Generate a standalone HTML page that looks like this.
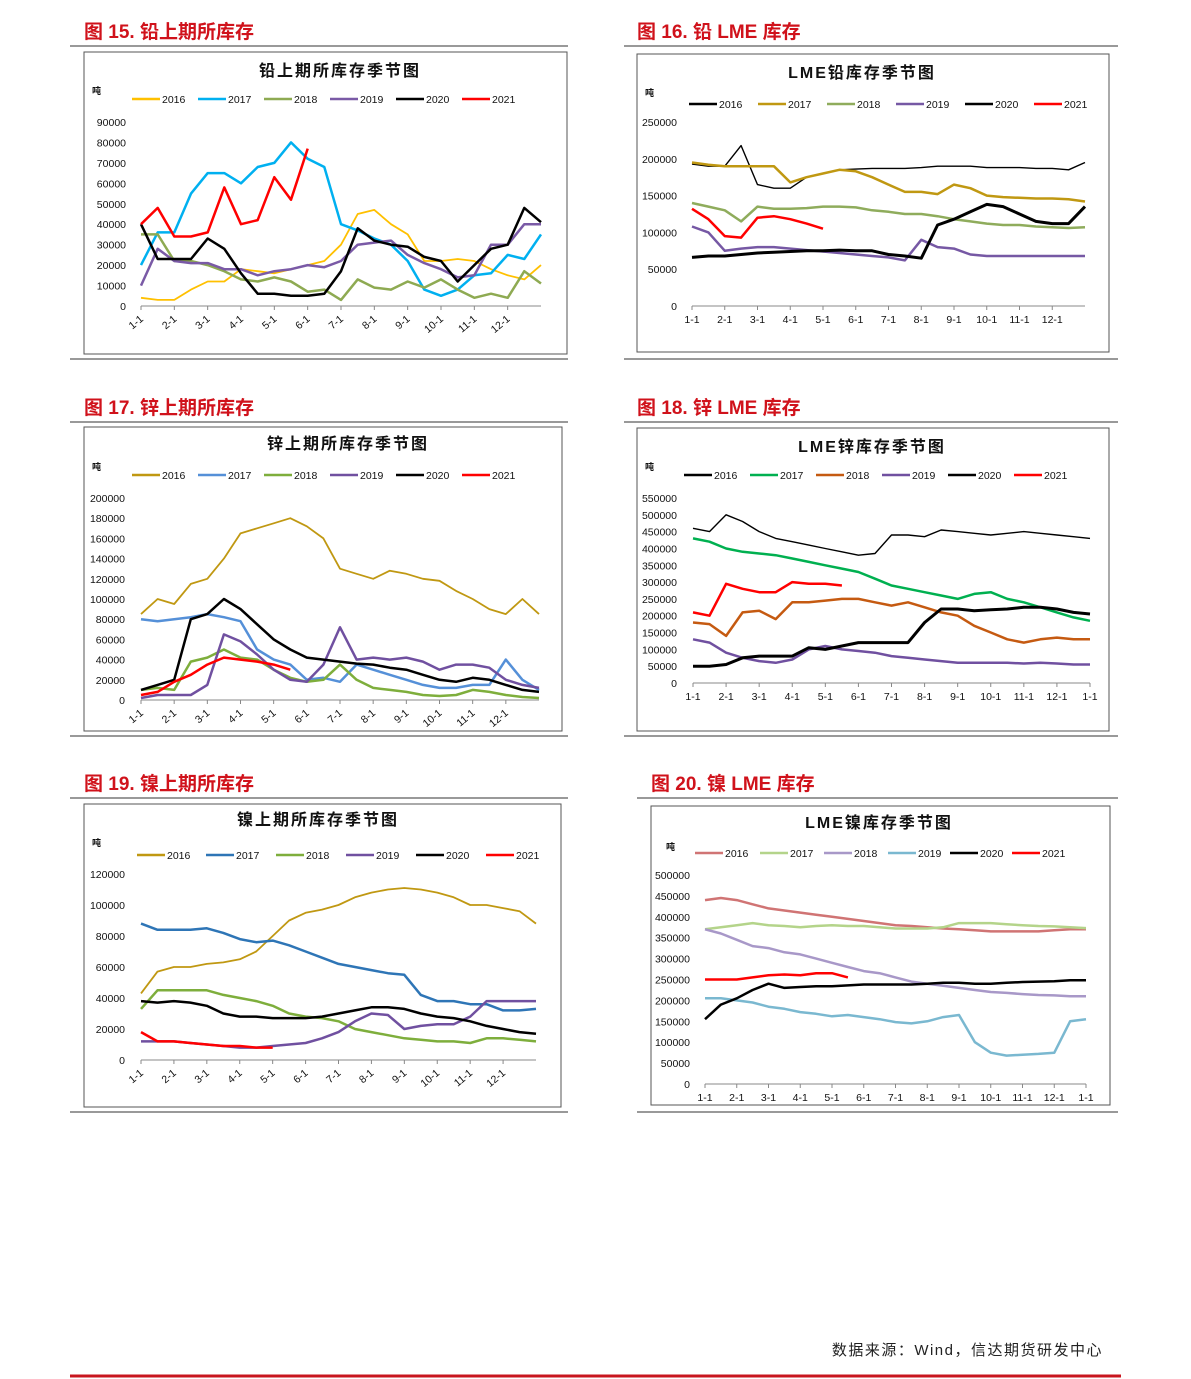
<!DOCTYPE html>
<html><head><meta charset="utf-8">
<style>
html,body{margin:0;padding:0;background:#fff;}
svg{display:block;font-family:"Liberation Sans","Noto Sans CJK SC",sans-serif;}
.ttl{font-family:"Liberation Sans","Noto Sans CJK SC",sans-serif;font-size:19px;font-weight:bold;fill:#d0121b;}
.ctl{font-family:"Liberation Sans","Noto Sans CJK SC",sans-serif;font-size:16px;font-weight:bold;fill:#111;letter-spacing:2px;}
.tk{font-size:10.5px;fill:#111;}
</style></head>
<body>
<svg id="page" width="1191" height="1379" viewBox="0 0 1191 1379" xmlns="http://www.w3.org/2000/svg"></svg>
<script>
// ===== Chart 15: Pb SHFE (tons, per half-month samples) =====
const pbShfe2016 = [4000,3000,3000,8000,12000,12000,18000,17000,16000,18000,20000,22000,30000,45000,47000,40000,35000,22000,22000,23000,22000,18000,15000,13000,20000];
const pbShfe2017 = [20000,36000,36000,55000,65000,65000,60000,68000,70000,80000,72000,68000,40000,37000,33000,30000,22000,8000,5000,8000,15000,16000,25000,23000,35000];
const pbShfe2018 = [35000,35000,22000,22000,20000,17000,13000,12000,14000,12000,7000,8000,3000,13000,9000,8000,12000,9000,13000,8000,4000,6000,4000,17000,11000];
const pbShfe2019 = [10000,28000,22000,21000,21000,18000,18000,15000,17000,18000,20000,19000,22000,30000,31000,32000,25000,21000,18000,14000,15000,30000,30000,40000,40000];
const pbShfe2020 = [40000,23000,23000,23000,33000,28000,16000,6000,6000,5000,5000,6000,17000,38000,32000,30000,29000,24000,22000,12000,20000,28000,30000,48000,41000];
const pbShfe2021 = [40000,48000,34000,34000,36000,58000,40000,42000,63000,52000,77000];
// ===== Chart 16: Pb LME =====
const pbLme2016 = [193000,190000,190000,218000,165000,160000,160000,175000,180000,185000,186000,187000,187000,187000,188000,190000,190000,190000,188000,188000,188000,187000,187000,185000,195000];
const pbLme2017 = [195000,192000,190000,190000,190000,190000,168000,175000,180000,185000,183000,175000,165000,155000,155000,152000,165000,160000,150000,148000,147000,146000,146000,145000,142000];
const pbLme2018 = [140000,135000,130000,115000,135000,132000,132000,133000,135000,135000,134000,130000,128000,125000,125000,122000,118000,115000,112000,110000,110000,108000,107000,106000,107000];
const pbLme2019 = [108000,100000,75000,78000,80000,80000,78000,76000,74000,72000,70000,68000,66000,62000,90000,80000,78000,70000,68000,68000,68000,68000,68000,68000,68000];
const pbLme2020 = [66000,68000,68000,70000,72000,73000,74000,75000,75000,76000,75000,75000,70000,68000,65000,110000,118000,128000,138000,135000,125000,115000,112000,112000,135000];
const pbLme2021 = [132000,118000,95000,93000,120000,122000,118000,112000,105000];
// ===== Chart 17: Zn SHFE =====
const znShfe2016 = [85000,100000,95000,115000,120000,140000,165000,170000,175000,180000,172000,160000,130000,125000,120000,128000,125000,120000,118000,108000,100000,90000,85000,100000,85000];
const znShfe2017 = [80000,78000,80000,82000,85000,82000,78000,50000,40000,35000,20000,22000,18000,35000,30000,25000,20000,15000,12000,12000,15000,15000,40000,20000,10000];
const znShfe2018 = [10000,12000,10000,38000,42000,50000,42000,40000,30000,22000,18000,20000,35000,20000,12000,10000,8000,5000,4000,5000,10000,8000,5000,3000,2000];
const znShfe2019 = [2000,5000,5000,5000,15000,65000,58000,45000,30000,20000,18000,35000,72000,40000,42000,40000,42000,38000,30000,35000,35000,32000,20000,15000,12000];
const znShfe2020 = [10000,15000,20000,80000,85000,100000,90000,75000,60000,50000,42000,40000,38000,36000,35000,32000,30000,25000,20000,18000,22000,20000,15000,10000,8000];
const znShfe2021 = [5000,8000,18000,25000,35000,42000,40000,38000,35000,30000];
// ===== Chart 18: Zn LME =====
const znLme2016 = [460000,450000,500000,480000,450000,430000,420000,410000,400000,390000,380000,385000,440000,440000,435000,455000,450000,445000,440000,445000,450000,445000,440000,435000,430000];
const znLme2017 = [430000,420000,400000,390000,385000,380000,370000,360000,350000,340000,330000,310000,290000,280000,270000,260000,250000,265000,270000,250000,240000,225000,210000,195000,185000];
const znLme2018 = [180000,175000,140000,210000,215000,190000,240000,240000,245000,250000,250000,240000,230000,240000,225000,210000,200000,170000,150000,130000,120000,130000,135000,130000,130000];
const znLme2019 = [130000,120000,90000,75000,65000,60000,70000,100000,110000,100000,95000,90000,80000,75000,70000,65000,60000,60000,60000,60000,58000,60000,58000,55000,55000];
const znLme2020 = [50000,50000,55000,75000,80000,80000,80000,105000,100000,110000,120000,120000,120000,120000,180000,220000,220000,215000,218000,220000,225000,225000,220000,210000,205000];
const znLme2021 = [210000,200000,295000,280000,270000,270000,300000,295000,295000,290000];
// ===== Chart 19: Ni SHFE =====
const niShfe2016 = [43000,57000,60000,60000,62000,63000,65000,70000,80000,90000,95000,97000,100000,105000,108000,110000,111000,110000,108000,105000,100000,100000,98000,96000,88000];
const niShfe2017 = [88000,84000,84000,84000,85000,82000,78000,76000,77000,74000,70000,66000,62000,60000,58000,56000,55000,42000,38000,38000,36000,36000,32000,32000,33000];
const niShfe2018 = [33000,45000,45000,45000,45000,42000,40000,38000,35000,30000,28000,27000,25000,20000,18000,16000,14000,13000,12000,12000,11000,14000,14000,13000,12000];
const niShfe2019 = [12000,12000,12000,11000,10000,9000,8000,8000,9000,10000,11000,14000,18000,25000,30000,29000,20000,22000,23000,23000,28000,38000,38000,38000,38000];
const niShfe2020 = [38000,37000,38000,37000,35000,30000,28000,28000,27000,27000,27000,28000,30000,32000,34000,34000,33000,30000,28000,27000,25000,22000,20000,18000,17000];
const niShfe2021 = [18000,12000,12000,11000,10000,9000,9000,8000,8000];
// ===== Chart 20: Ni LME =====
const niLme2016 = [440000,445000,440000,430000,420000,415000,410000,405000,400000,395000,390000,385000,380000,378000,375000,372000,370000,368000,365000,365000,365000,365000,368000,370000,370000];
const niLme2017 = [370000,375000,380000,385000,380000,378000,375000,378000,380000,378000,378000,375000,372000,372000,372000,375000,385000,385000,385000,382000,380000,378000,377000,375000,373000];
const niLme2018 = [370000,360000,345000,330000,325000,315000,310000,300000,290000,280000,270000,265000,255000,245000,240000,235000,230000,225000,220000,218000,215000,213000,212000,210000,210000];
const niLme2019 = [205000,205000,200000,195000,185000,180000,172000,168000,162000,165000,160000,155000,148000,145000,150000,160000,165000,100000,75000,68000,70000,72000,75000,150000,155000];
const niLme2020 = [155000,190000,205000,225000,240000,230000,232000,234000,234000,236000,238000,238000,238000,238000,240000,242000,242000,240000,240000,242000,244000,245000,246000,248000,248000];
const niLme2021 = [250000,250000,250000,255000,260000,262000,260000,265000,265000,255000];

const yearLabels = ['2016','2017','2018','2019','2020','2021'];
const monthLabels = ['1-1','2-1','3-1','4-1','5-1','6-1','7-1','8-1','9-1','10-1','11-1','12-1','1-1'];
const ticksPb = [0,10000,20000,30000,40000,50000,60000,70000,80000,90000];
const ticksPbL = [0,50000,100000,150000,200000,250000];
const ticksZn = [0,20000,40000,60000,80000,100000,120000,140000,160000,180000,200000];
const ticksZnL = [0,50000,100000,150000,200000,250000,300000,350000,400000,450000,500000,550000];
const ticksNi = [0,20000,40000,60000,80000,100000,120000];
const ticksNiL = [0,50000,100000,150000,200000,250000,300000,350000,400000,450000,500000];

const NS='http://www.w3.org/2000/svg';
const svg=document.getElementById('page');
function mk(tag,attrs,parent,text){const e=document.createElementNS(NS,tag);for(const k in attrs)e.setAttribute(k,attrs[k]);if(text!==undefined)e.textContent=text;(parent||svg).appendChild(e);return e;}

const charts=[
 {id:'pb-shfe',head:'图 15.  铅上期所库存',hx:84,hy:38,lx1:70,lx2:568,ly1:46,ly2:359,box:[84,52,483,302],title:'铅上期所库存季节图',tx:340,ty:76,unitX:92,unitY:94,
  legX:[132,198,264,330,396,462],legY:99,x0:141,W:400,y0:306,y1:122,ymax:90000,ticks:ticksPb,tickX:126,rot:true,nMonths:12,
  series:[pbShfe2016,pbShfe2017,pbShfe2018,pbShfe2019,pbShfe2020,pbShfe2021],colors:['#ffc000','#00b0f0','#8eaa52','#7a5aa6','#000','#ff0000'],widths:[1.8,2.5,2.5,2.5,2.5,2.5]},
 {id:'pb-lme',head:'图 16.  铅 LME 库存',hx:637,hy:38,lx1:624,lx2:1118,ly1:46,ly2:359,box:[637,54,472,298],title:'LME铅库存季节图',tx:862,ty:78,unitX:645,unitY:96,
  legX:[689,758,827,896,965,1034],legY:104,x0:692,W:393,y0:306,y1:122,ymax:250000,ticks:ticksPbL,tickX:677,rot:false,nMonths:12,
  series:[pbLme2016,pbLme2017,pbLme2018,pbLme2019,pbLme2020,pbLme2021],colors:['#000','#c09812','#8fac5c','#7658a4','#000','#ff0000'],widths:[1.4,2.5,2.5,2.5,3,2.5]},
 {id:'zn-shfe',head:'图 17.  锌上期所库存',hx:84,hy:414,lx1:70,lx2:568,ly1:422,ly2:736,box:[84,427,478,304],title:'锌上期所库存季节图',tx:348,ty:449,unitX:92,unitY:470,
  legX:[132,198,264,330,396,462],legY:475,x0:141,W:398,y0:700,y1:498,ymax:200000,ticks:ticksZn,tickX:125,rot:true,nMonths:12,
  series:[znShfe2016,znShfe2017,znShfe2018,znShfe2019,znShfe2020,znShfe2021],colors:['#c09812','#5590d8','#7eae3c','#7050a0','#000','#ff0000'],widths:[1.8,2.5,2.5,2.5,2.5,2.5]},
 {id:'zn-lme',head:'图 18.  锌 LME 库存',hx:637,hy:414,lx1:624,lx2:1118,ly1:422,ly2:736,box:[637,428,472,303],title:'LME锌库存季节图',tx:872,ty:452,unitX:645,unitY:470,
  legX:[684,750,816,882,948,1014],legY:475,x0:693,W:397,y0:683,y1:498,ymax:550000,ticks:ticksZnL,tickX:677,rot:false,nMonths:13,
  series:[znLme2016,znLme2017,znLme2018,znLme2019,znLme2020,znLme2021],colors:['#000','#00b050','#c55a11','#7050a0','#000','#ff0000'],widths:[1.4,2.5,2.5,2.5,3,2.5]},
 {id:'ni-shfe',head:'图 19.  镍上期所库存',hx:84,hy:790,lx1:70,lx2:568,ly1:798,ly2:1112,box:[84,804,477,303],title:'镍上期所库存季节图',tx:318,ty:825,unitX:92,unitY:846,
  legX:[137,206,276,346,416,486],legY:855,x0:141,W:395,y0:1060,y1:874,ymax:120000,ticks:ticksNi,tickX:125,rot:true,nMonths:12,
  series:[niShfe2016,niShfe2017,niShfe2018,niShfe2019,niShfe2020,niShfe2021],colors:['#c09812','#2e75b6','#7eae3c','#7050a0','#000','#ff0000'],widths:[1.8,2.5,2.5,2.5,2.5,2.5]},
 {id:'ni-lme',head:'图 20.  镍 LME 库存',hx:651,hy:790,lx1:637,lx2:1118,ly1:798,ly2:1112,box:[651,806,459,299],title:'LME镍库存季节图',tx:879,ty:828,unitX:666,unitY:850,
  legX:[695,760,824,888,950,1012],legY:853,x0:705,W:381,y0:1084,y1:875,ymax:500000,ticks:ticksNiL,tickX:690,rot:false,nMonths:13,
  series:[niLme2016,niLme2017,niLme2018,niLme2019,niLme2020,niLme2021],colors:['#d07474','#b4d48a','#a898c8','#7ab8d0','#000','#ff0000'],widths:[2.5,2.5,2.5,2.5,2.5,2.5]}
];

charts.forEach(c=>{
  const g=mk('g',{});
  
  
  const h=mk('text',{x:c.hx,y:c.hy,class:'ttl'},g,c.head);
  
  
  mk('line',{x1:c.lx1,x2:c.lx2,y1:c.ly1,y2:c.ly1,stroke:'#333','stroke-width':1},g);
  mk('line',{x1:c.lx1,x2:c.lx2,y1:c.ly2,y2:c.ly2,stroke:'#333','stroke-width':1},g);
  const b=mk('rect',{x:c.box[0],y:c.box[1],width:c.box[2],height:c.box[3],fill:'#fff',stroke:'#555','stroke-width':1},g);
  
  
  const t=mk('text',{x:c.tx,y:c.ty,class:'ctl','text-anchor':'middle'},g,c.title);
  
  
  const u=mk('text',{x:c.unitX,y:c.unitY,'font-size':9,'font-weight':'bold',fill:'#111'},g,'吨');
  
  
  const ys=v=>c.y0-(v/c.ymax)*(c.y0-c.y1);
  const xs=i=>c.x0+i/24*c.W;
  c.ticks.forEach(v=>{
    const tk=mk('text',{x:c.tickX,y:ys(v)+4,class:'tk','text-anchor':'end'},g,String(v));
    
    
  });
  mk('line',{x1:c.x0,x2:c.x0+c.W,y1:c.y0,y2:c.y0,stroke:'#888','stroke-width':1},g);
  for(let m=0;m<c.nMonths;m++){
    const x=c.x0+m/12*c.W;
    mk('line',{x1:x,x2:x,y1:c.y0,y2:c.y0+4,stroke:'#888','stroke-width':1},g);
    let lab;
    if(c.rot){lab=mk('text',{x:x+3,y:c.y0+14,class:'tk','text-anchor':'end',transform:'rotate(-40 '+(x+3)+' '+(c.y0+14)+')'},g,monthLabels[m]);}
    else{lab=mk('text',{x:x,y:c.y0+17,class:'tk','text-anchor':'middle','font-size':10},g,monthLabels[m]);}
    
    
  }
  c.series.forEach((s,k)=>{
    const p=mk('polyline',{points:s.map((v,i)=>xs(i).toFixed(1)+','+ys(v).toFixed(1)).join(' '),fill:'none',stroke:c.colors[k],'stroke-width':c.widths[k],'stroke-linejoin':'round'},g);
    
    
    const lx=c.legX[k];
    const lg=mk('g',{},g);
    
    
    mk('line',{x1:lx,x2:lx+28,y1:c.legY,y2:c.legY,stroke:c.colors[k],'stroke-width':2.5},lg);
    mk('text',{x:lx+30,y:c.legY+4,class:'tk'},lg,yearLabels[k]);
  });
});
const src=mk('text',{x:1103,y:1355,'text-anchor':'end','font-size':15,fill:'#222','letter-spacing':'1.5'},svg,'数据来源：Wind，信达期货研发中心');


const fl=mk('line',{x1:70,x2:1121,y1:1376,y2:1376,stroke:'#c8161e','stroke-width':3});


</script>
</body></html>
